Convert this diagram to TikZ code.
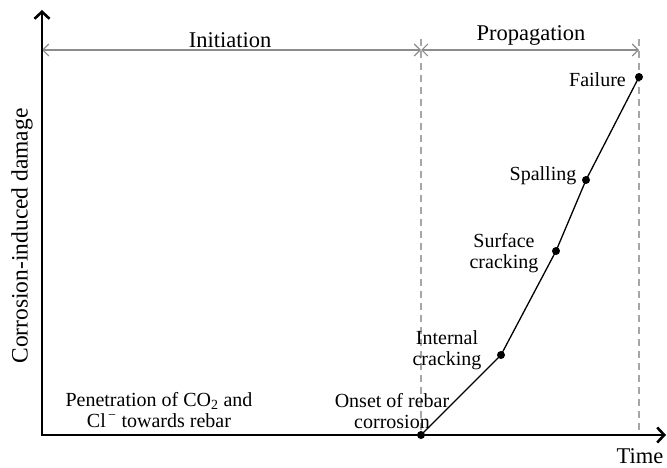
\documentclass[tikz,border=0pt]{standalone}
\usepackage{fontspec}
\setmainfont{Liberation Serif}
\usetikzlibrary{arrows.meta}
\begin{document}
\begin{tikzpicture}[x=1pt,y=-1pt,
  lbl/.style={font=\fontsize{20}{21}\selectfont, inner sep=0pt, align=center},
  head/.style={font=\fontsize{22.5}{24}\selectfont, inner sep=0pt},
  axis/.style={line width=2.6pt, -{Straight Barb[length=7pt,width=15pt,line width=2.6pt]}},
  span/.style={draw=black!45, line width=1.3pt, {Straight Barb[length=6pt,width=12pt,line width=1.1pt]}-{Straight Barb[length=6pt,width=12pt,line width=1.1pt]}},
  guide/.style={draw=black!35, line width=1.1pt, dash pattern=on 7pt off 5pt},
  dot/.style={circle, fill=black, inner sep=0pt, minimum size=8pt},
  curve/.style={line width=1.3pt}]
\useasboundingbox (0,0) rectangle (667,468);
\coordinate (O) at (42,435);
\coordinate (Ytop) at (42,10);
\coordinate (Xend) at (666,435);
\coordinate (L) at (42,50);
\coordinate (M) at (421,50);
\coordinate (R) at (639,50);
\coordinate (Mtop) at (421,39);
\coordinate (Mbot) at (421,435);
\coordinate (Rtop) at (639,39);
\coordinate (Rbot) at (639,435);
% guides
\draw[guide] (Mtop) -- (Mbot);
\draw[guide] (Rtop) -- (Rbot);
% spans
\draw[span] (L) -- (M);
\draw[span] (M) -- (R);
\node[head] (init) at (230,40) {Initiation};
\node[head] (prop) at (531,35) {Propagation};
% points
\node[dot] (p0) at (421,435) {};
\node[dot] (p1) at (501,355) {};
\node[dot] (p2) at (556,251) {};
\node[dot] (p3) at (586,180) {};
\node[dot] (p4) at (639,77) {};
\draw[curve] (p0.center) -- (p1.center) -- (p2.center) -- (p3.center) -- (p4.center);
% axes
\draw[axis] (O) -- (Ytop);
\draw[axis] ([xshift=-1.3pt]O) -- (Xend);
% labels
\node[lbl, anchor=east] (lf) at (626,80) {Failure};
\node[lbl] (ls) at (543,176) {Spalling};
\node[lbl] (lsc) at (504,253) {Surface\\cracking};
\node[lbl] (lic) at (447,350) {Internal\\cracking};
\node[lbl] (lon) at (392,411) {Onset of rebar\\corrosion};
\node[lbl] (lpen) at (159,410) {Penetration of CO\textsubscript{2} and\\Cl\textsuperscript{\,−} towards rebar};
\node[head, rotate=90, font=\fontsize{23.5}{24}\selectfont] (ylab) at (22,236) {Corrosion-induced damage};
\node[head] (xlab) at (640,456) {Time};
\end{tikzpicture}
\end{document}
